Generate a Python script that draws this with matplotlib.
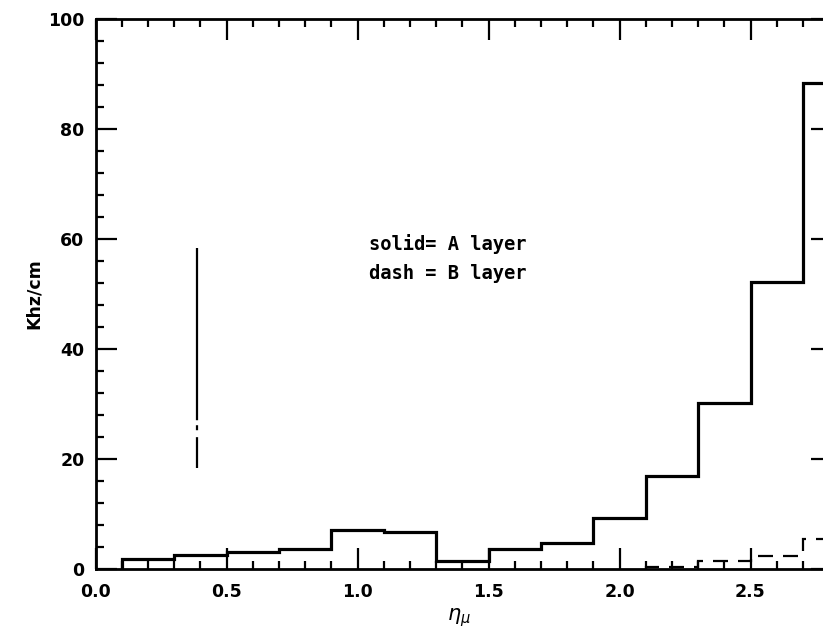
import matplotlib
matplotlib.use("Agg")
import matplotlib.pyplot as plt
from matplotlib.ticker import MultipleLocator, FormatStrFormatter

# ---- data ----
a_edges = [0.1, 0.3, 0.5, 0.7, 0.9, 1.1, 1.3, 1.5, 1.7, 1.9, 2.1, 2.3, 2.5, 2.7, 2.9]
a_values = [1.9, 2.5, 3.1, 3.6, 7.1, 6.7, 1.45, 3.6, 4.7, 9.2, 17.0, 30.2, 52.2, 88.3]

b_edges = [2.1, 2.3, 2.5, 2.7, 2.9]
b_values = [0.4, 1.4, 2.4, 5.4]

mark_x = [0.386, 0.386]
mark_y = [58.4, 18.4]

legend_lines = ["solid= A layer", "dash = B layer"]
x_ticks = [0.0, 0.5, 1.0, 1.5, 2.0, 2.5]
y_ticks = [0, 20, 40, 60, 80, 100]

plt.rcParams['lines.scale_dashes'] = False

fig = plt.figure(figsize=(8.23, 6.29), dpi=100)
W, H = 823, 629
x_max = 2.81
left_px, top_px, bot_px = 95.5, 19, 569
right_px = left_px + 262 * x_max
ax = fig.add_axes([left_px / W, 1 - bot_px / H, (right_px - left_px) / W, (bot_px - top_px) / H])

ax.stairs(a_values, a_edges, baseline=0, color='black', linewidth=2.3)
ln = ax.stairs(b_values, b_edges, baseline=0, color='black', linewidth=1.6)
ln.set_linestyle((0, (10.8, 7.2)))

ax.plot(mark_x, mark_y, color='black', linewidth=1.6,
        linestyle=(0, (124, 3.6, 3.6, 5, 24)))

ax.text(1.044, 59.0, legend_lines[0], fontsize=13.5, family='DejaVu Sans Mono',
        fontweight='bold', ha='left', va='center')
ax.text(1.044, 53.8, legend_lines[1], fontsize=13.5, family='DejaVu Sans Mono',
        fontweight='bold', ha='left', va='center')

ax.set_xlim(0, x_max)
ax.set_ylim(0, 100)
ax.set_xticks(x_ticks)
ax.set_yticks(y_ticks)
ax.xaxis.set_major_formatter(FormatStrFormatter('%.1f'))
ax.xaxis.set_minor_locator(MultipleLocator(0.1))
ax.yaxis.set_minor_locator(MultipleLocator(4))

ax.tick_params(which='both', direction='in', top=True, right=True, width=1.6)
ax.tick_params(which='major', length=15)
ax.tick_params(which='minor', length=5.5)
ax.tick_params(axis='x', which='major', pad=10, labelsize=12.5)
ax.tick_params(axis='y', which='major', pad=8, labelsize=12.5)
for lab in ax.get_xticklabels() + ax.get_yticklabels():
    lab.set_fontweight('bold')

for sp in ax.spines.values():
    sp.set_linewidth(2.0)

ax.set_ylabel('Khz/cm', fontsize=12.5, fontweight='bold')
ax.yaxis.set_label_coords(-0.072, 0.5)
ax.set_xlabel(r'$\eta_\mu$', fontsize=15)
ax.xaxis.set_label_coords(0.494, -0.068)

fig.savefig('out.png', dpi=100)
